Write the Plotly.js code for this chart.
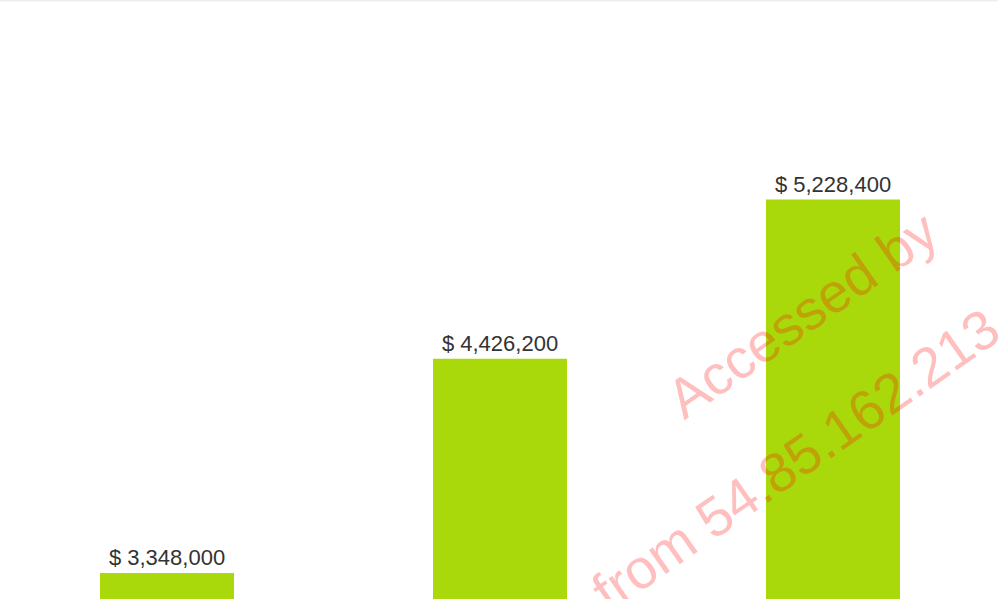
<!DOCTYPE html>
<html>
<head>
<meta charset="utf-8">
<script src="https://cdn.plot.ly/plotly-3.0.1.min.js"></script>
<style>html,body{margin:0;padding:0;background:#fff;}#chart{width:998px;height:599px;}</style>
</head>
<body>
<div id="chart"></div>
<script>
const categories = ["A", "B", "C"];
const values = [3348000, 4426200, 5228400];
const valueLabels = ["$ 3,348,000", "$ 4,426,200", "$ 5,228,400"];
const watermarkLines = ["Accessed by", "from 54.85.162.213"];

const W = 998, H = 599;
const FONT = "Arial, 'Liberation Sans', sans-serif";
const trace = {
  type: "bar",
  x: [0, 1, 2],
  y: values,
  width: 0.4024,
  text: valueLabels,
  textposition: "outside",
  texttemplate: "%{text}",
  textfont: {family: FONT, size: 22, color: "#333333"},
  cliponaxis: false,
  marker: {color: "#a9d90b", line: {width: 0}},
  hoverinfo: "none"
};

const layout = {
  width: W, height: H,
  margin: {l: 0, r: 0, t: 0, b: 0, pad: 0},
  paper_bgcolor: "#ffffff",
  plot_bgcolor: "#ffffff",
  showlegend: false,
  xaxis: {visible: false, showgrid: false, zeroline: false, range: [-0.5015, 2.4955],
          tickvals: [0, 1, 2], ticktext: categories},
  yaxis: {visible: false, showgrid: false, zeroline: false, range: [3217100, 6232800]},
  shapes: [{type: "line", xref: "paper", yref: "paper", x0: 0, x1: 1, y0: 0.999, y1: 0.999,
            line: {color: "#eeeeee", width: 2}}],
  annotations: [
    {text: watermarkLines[0], xref: "paper", yref: "paper", x: 802 / W, y: 1 - 315 / H,
     xanchor: "center", yanchor: "middle", showarrow: false, textangle: -35,
     font: {family: FONT, size: 55.5, color: "rgba(255,0,0,0.25)"}},
    {text: watermarkLines[1], xref: "paper", yref: "paper", x: 795.6 / W, y: 1 - 459.7 / H,
     xanchor: "center", yanchor: "middle", showarrow: false, textangle: -35,
     font: {family: FONT, size: 55.5, color: "rgba(255,0,0,0.25)"}}
  ]
};

Plotly.newPlot("chart", [trace], layout, {displayModeBar: false, staticPlot: true});
</script>
</body>
</html>
